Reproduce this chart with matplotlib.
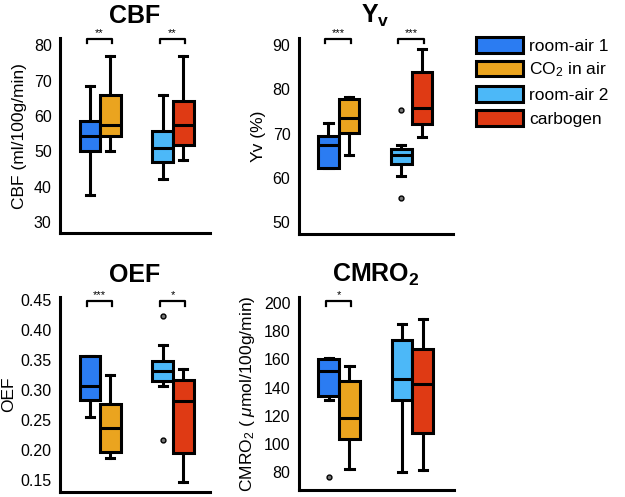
import matplotlib
matplotlib.use("Agg")
import matplotlib.pyplot as plt
from matplotlib.patches import Patch

plt.rcParams["font.family"] = ["Liberation Sans", "DejaVu Sans"]
plt.rcParams["mathtext.fontset"] = "custom"
plt.rcParams["mathtext.rm"] = "Liberation Sans"
plt.rcParams["mathtext.it"] = "Liberation Sans:italic"
plt.rcParams["mathtext.bf"] = "Liberation Sans:bold"

# groups, in drawing order
groups = ["room-air 1", "CO$_2$ in air", "room-air 2", "carbogen"]
colors = ["#2b7cf2", "#eaa41f", "#4cb8f8", "#df3a14"]

# box stats per group: (whisker low, q1, median, q3, whisker high)
cbf = [(37.5, 50.1, 54.2, 58.6, 68.4),
       (50.1, 54.3, 57.4, 65.8, 77.0),
       (42.1, 47.0, 50.8, 55.8, 66.0),
       (47.6, 51.9, 57.5, 64.2, 77.0)]
cbf_fliers = [[], [], [], []]

yv = [(62.2, 62.2, 67.4, 69.4, 72.4),
      (65.2, 70.2, 73.5, 77.8, 78.3),
      (60.4, 63.2, 65.2, 66.4, 67.4),
      (69.2, 72.1, 75.7, 84.0, 89.2)]
yv_fliers = [[], [], [75.3, 55.3], []]

oef = [(0.255, 0.284, 0.306, 0.356, 0.356),
       (0.186, 0.196, 0.236, 0.277, 0.325),
       (0.306, 0.315, 0.331, 0.348, 0.376),
       (0.146, 0.195, 0.281, 0.316, 0.335)]
oef_fliers = [[], [], [0.424, 0.216], []]

cmro2 = [(131.4, 134.0, 151.5, 160.5, 161.2),
         (81.7, 103.0, 118.3, 144.6, 155.3),
         (80.0, 130.9, 146.3, 174.0, 185.3),
         (81.2, 107.9, 142.2, 167.6, 188.9)]
cmro2_fliers = [[76.5], [], [], []]

# significance: (first box, second box, label)
cbf_sig = [(0, 1, "**"), (2, 3, "**")]
yv_sig = [(0, 1, "***"), (2, 3, "***")]
oef_sig = [(0, 1, "***"), (2, 3, "*")]
cmro2_sig = [(0, 1, "*")]

positions = [1.45, 2.45, 5.0, 6.0]


def draw_panel(ax, stats, fliers, sig, sig_y, title, ylabel, ylim, yticks, fmt, xmax):
    bxp_stats = []
    for (lo, q1, med, q3, hi), fl in zip(stats, fliers):
        bxp_stats.append(dict(whislo=lo, q1=q1, med=med, q3=q3, whishi=hi, fliers=fl))
    res = ax.bxp(bxp_stats, positions=positions, widths=1.0, patch_artist=True,
                 capwidths=0.4,
                 boxprops=dict(edgecolor="black", linewidth=2.2),
                 medianprops=dict(color="black", linewidth=2.2),
                 whiskerprops=dict(color="black", linewidth=2.2),
                 capprops=dict(color="black", linewidth=2.2),
                 flierprops=dict(marker="o", markersize=3.5, markerfacecolor="#777777",
                                 markeredgecolor="black", markeredgewidth=1.0))
    for box, c in zip(res["boxes"], colors):
        box.set_facecolor(c)
    for w in res["whiskers"] + res["caps"]:
        w.set_zorder(1.5)

    lo, hi = sig_y
    trans = ax.get_xaxis_transform()
    for a, b, lab in sig:
        x0, x1 = positions[a] - 0.15, positions[b] + 0.1
        ax.plot([x0, x0, x1, x1], [lo, hi, hi, lo],
                color="black", lw=1.6, transform=trans, clip_on=False)
        ax.text((x0 + x1) / 2, hi + 0.004, lab, transform=trans,
                ha="center", va="bottom", fontsize=8)

    ax.set_xlim(0, xmax)
    ax.set_ylim(*ylim)
    ax.set_yticks(yticks)
    ax.set_yticklabels([fmt.format(t) for t in yticks])
    ax.set_xticks([])
    ax.tick_params(axis="y", length=0, pad=6, labelsize=11.5)
    for s in ["top", "right"]:
        ax.spines[s].set_visible(False)
    for s in ["left", "bottom"]:
        ax.spines[s].set_linewidth(2.2)
    ax.set_title(title, fontsize=18, fontweight="bold", pad=11)
    ax.set_ylabel(ylabel, fontsize=12.5, labelpad=5)


fig = plt.figure(figsize=(6.25, 4.97), dpi=100)

ax1 = fig.add_axes([0.096, 0.531, 0.24, 0.392])
draw_panel(ax1, cbf, cbf_fliers, cbf_sig, (0.975, 0.995), "CBF", "CBF (ml/100g/min)",
           (26.8, 82), [30, 40, 50, 60, 70, 80], "{:.0f}", 7.3)

ax2 = fig.add_axes([0.478, 0.529, 0.246, 0.394])
draw_panel(ax2, yv, yv_fliers, yv_sig, (0.975, 0.995), r"$\mathbf{Y_v}$", "Yv (%)",
           (47.2, 91.6), [50, 60, 70, 80, 90], "{:.0f}", 7.5)

ax3 = fig.add_axes([0.096, 0.010, 0.24, 0.392])
draw_panel(ax3, oef, oef_fliers, oef_sig, (0.955, 0.98), "OEF", "OEF",
           (0.1297, 0.455), [0.15, 0.20, 0.25, 0.30, 0.35, 0.40, 0.45], "{:.2f}", 7.3)
ax3.yaxis.labelpad = 3

ax4 = fig.add_axes([0.478, 0.014, 0.248, 0.388])
draw_panel(ax4, cmro2, cmro2_fliers, cmro2_sig, (0.955, 0.98), r"$\mathbf{CMRO_2}$",
           r"CMRO$_2$ ( $\mu$mol/100g/min)",
           (67, 204.3), [80, 100, 120, 140, 160, 180, 200], "{:.0f}", 7.5)

handles = [Patch(facecolor=c, edgecolor="black", linewidth=2.2) for c in colors]
fig.legend(handles, groups, loc="upper left", bbox_to_anchor=(476 / 625, 1 - 37 / 497),
           frameon=False, fontsize=12.5, handlelength=2.7, handleheight=1.0,
           handletextpad=0.35, labelspacing=0.4, borderpad=0, borderaxespad=0)

fig.savefig("out.png", dpi=100)
